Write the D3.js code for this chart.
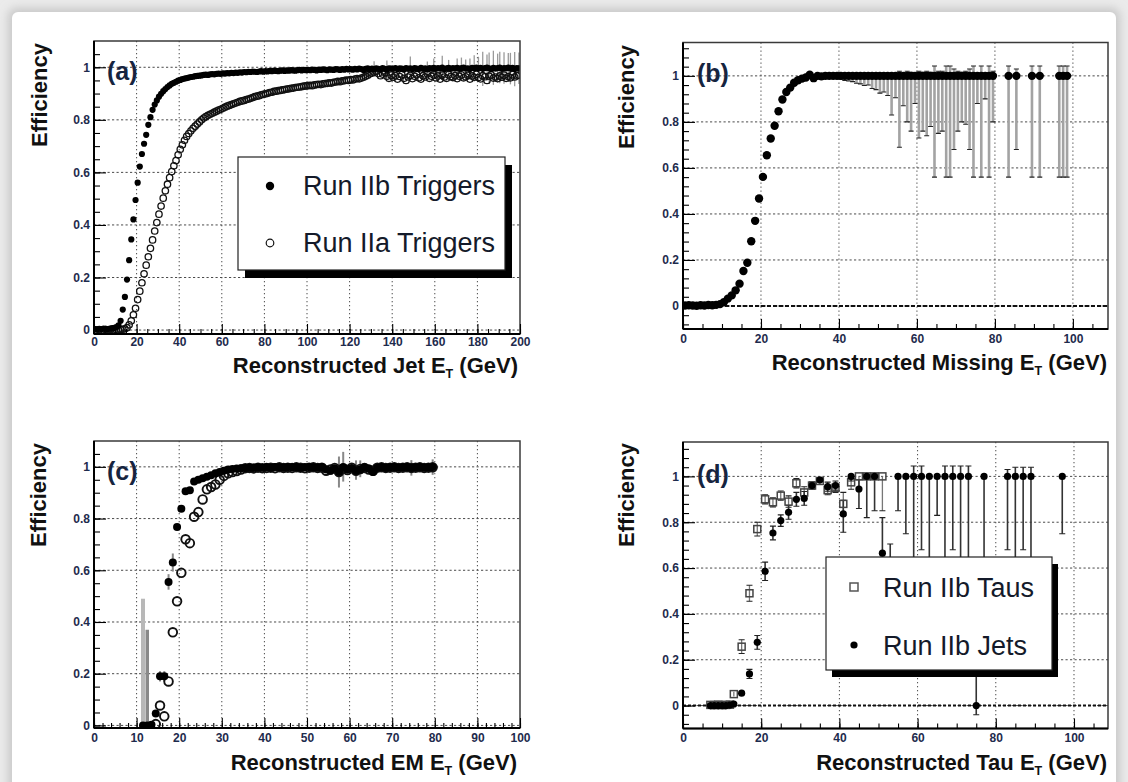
<!DOCTYPE html>
<html><head><meta charset="utf-8">
<script src="https://cdn.jsdelivr.net/npm/d3@7"></script>
<style>
html,body{margin:0;padding:0;background:#ebebeb;}
svg{display:block;}
</style></head><body>
<svg id="c" width="1128" height="782"></svg>
<script>
// ---------------- DATA ----------------
// Panel (a): 1 GeV bins starting at 0 (bin centre = index + 0.5)
const aIIb = [
0.004,0.003,0.005,0.004,0.006,0.005,0.004,0.006,0.007,0.008,
0.011,0.018,0.035,0.078,0.126,0.192,0.266,0.345,0.421,0.495,
0.561,0.622,0.670,0.709,0.743,0.781,0.810,0.838,0.858,0.874,
0.888,0.899,0.909,0.917,0.925,0.931,0.937,0.941,0.945,0.949,
0.952,0.955,0.957,0.959,0.961,0.963,0.964,0.966,0.967,0.968,
0.969,0.971,0.972,0.971,0.973,0.974,0.973,0.975,0.976,0.975,
0.977,0.976,0.978,0.977,0.979,0.978,0.980,0.979,0.981,0.980,
0.982,0.981,0.983,0.982,0.984,0.983,0.982,0.984,0.985,0.983,
0.985,0.984,0.986,0.985,0.987,0.986,0.985,0.987,0.988,0.986,
0.988,0.987,0.989,0.988,0.987,0.989,0.990,0.988,0.990,0.989,
0.990,0.989,0.991,0.990,0.988,0.991,0.990,0.992,0.991,0.989,
0.992,0.991,0.990,0.993,0.992,0.990,0.993,0.991,0.994,0.992,
0.993,0.991,0.994,0.992,0.995,0.993,0.990,0.994,0.996,0.992,
0.995,0.993,0.996,0.994,0.992,0.997,0.994,0.991,0.996,0.995,
0.994,0.997,0.993,0.996,0.995,0.992,0.997,0.994,0.996,0.993,
0.997,0.995,0.993,0.998,0.994,0.996,0.992,0.997,0.995,0.998,
0.994,0.997,0.995,0.999,0.993,0.996,0.998,0.994,0.997,0.995,
0.998,0.994,0.997,0.999,0.995,0.996,0.993,0.998,0.996,0.999,
0.995,0.998,0.994,0.997,0.999,0.996,0.993,0.998,0.995,0.997,
0.999,0.994,0.997,0.996,0.999,0.995,0.998,0.993,0.997,0.996];
const aIIa = [
0.000,-0.002,0.001,-0.003,0.000,0.002,-0.001,0.001,-0.002,0.000,
0.001,-0.001,0.002,0.003,0.005,0.009,0.020,0.035,0.058,0.083,
0.116,0.148,0.180,0.214,0.247,0.279,0.311,0.343,0.377,0.409,
0.441,0.472,0.502,0.530,0.555,0.580,0.603,0.625,0.645,0.667,
0.688,0.705,0.722,0.737,0.748,0.758,0.768,0.776,0.784,0.792,
0.800,0.807,0.812,0.817,0.821,0.825,0.829,0.833,0.837,0.840,
0.844,0.848,0.852,0.855,0.858,0.861,0.864,0.867,0.870,0.872,
0.874,0.877,0.879,0.882,0.885,0.888,0.890,0.892,0.895,0.897,
0.899,0.901,0.904,0.905,0.908,0.909,0.911,0.912,0.914,0.915,
0.917,0.918,0.920,0.921,0.923,0.924,0.925,0.926,0.928,0.929,
0.930,0.931,0.930,0.933,0.934,0.935,0.934,0.937,0.938,0.939,
0.941,0.940,0.943,0.944,0.946,0.945,0.948,0.949,0.951,0.950,
0.953,0.952,0.955,0.957,0.956,0.959,0.962,0.966,0.970,0.975,
0.978,0.982,0.985,0.976,0.968,0.974,0.980,0.966,0.958,0.970,
0.962,0.968,0.955,0.965,0.972,0.958,0.950,0.963,0.969,0.957,
0.966,0.972,0.960,0.955,0.968,0.963,0.975,0.958,0.966,0.971,
0.960,0.967,0.955,0.970,0.963,0.958,0.972,0.965,0.961,0.968,
0.957,0.966,0.971,0.960,0.964,0.969,0.955,0.967,0.962,0.973,
0.961,0.956,0.968,0.964,0.950,0.966,0.971,0.959,0.963,0.957,
0.967,0.962,0.970,0.958,0.965,0.960,0.972,0.963,0.968,0.970];
const aErrBins = [131,137,148,156,159,163,166,170,172,174,176,178,180,182,184,185,187,189,190,192,194,195,197,199];
const aErrSize = [0.03,0.035,0.045,0.03,0.035,0.045,0.03,0.035,0.04,0.035,0.04,0.05,0.045,0.065,0.05,0.06,0.065,0.055,0.06,0.06,0.055,0.06,0.065,0.06];

// Panel (b): missing ET
const bX = d3.range(0.5, 80, 1).concat([83.5, 85.5, 89.5, 91.5, 96.5, 97.5, 98.5]);
const bY = [
0.002,0.003,0.002,0.001,0.003,0.002,0.004,0.003,0.005,0.008,
0.017,0.032,0.046,0.068,0.097,0.152,0.188,0.281,0.370,0.467,
0.561,0.655,0.728,0.783,0.846,0.897,0.930,0.949,0.970,0.981,
0.988,0.993,1.005,0.990,1.000,0.998,1.000,1.000,1.000,1.000,
1,1,1,1,1,1,1,1,1,1, 1,1,1,1,1,1,1,1,1,1,
1,1,1,1,1,1,1,1,1,1, 1,1,1,1,1,1,1,1,1,1,
1,1,1,1,1,1,1];
const bErrLo = new Array(35).fill(0).concat([
0.002,0.003,0.005,0.007,0.01,0.015,0.02,0.022,0.025,0.032,
0.035,0.042,0.04,0.055,0.06,0.075,0.07,0.085,0.17,0.095,
0.31,0.13,0.2,0.24,0.12,0.27,0.24,0.26,0.22,0.44,
0.25,0.24,0.44,0.44,0.32,0.24,0.2,0.21,0.32,0.44,
0.12,0.44,0.1,0.44,0.2,
0.44,0.32,0.44,0.44,0.44,0.44,0.44]);
const bErrHi = new Array(53).fill(0).concat([
0.01,0.005,0.02,0.01,0.02,0.015,0.01,0.02,0.015,0.02,
0.015,0.043,0.02,0.02,0.043,0.043,0.03,0.02,0.015,0.02,
0.03,0.043,0.01,0.043,0.01,0.043,0.02,
0.043,0.03,0.043,0.043,0.043,0.043,0.043]);

// Panel (c): EM ET
const cFilledX = d3.range(11.5, 80, 1);
const cFilled = [
0,0,0.003,0.046,0.19,0.19,0.555,0.63,0.767,0.838,0.906,0.91,0.943,0.95,0.956,0.962,0.968,0.975,0.98,
0.985,0.99,0.992,0.994,0.995,0.996,0.997,0.996,0.998,0.997,
0.998,0.997,0.999,0.998,0.997,0.999,0.998,0.999,0.997,0.998,
0.999,0.998,0.997,0.999,0.99,0.985,0.995,0.98,0.998,0.99,
0.996,0.985,0.99,0.998,0.993,0.98,0.997,0.999,0.996,0.998,
0.999,0.997,0.998,0.999,0.996,0.998,0.999,0.997,0.998,0.999];
const cOpenX = d3.range(14.5, 80, 1);
const cOpen = [
0.005,0.077,0.035,0.17,0.36,0.48,0.59,0.72,0.705,0.807,0.825,0.874,0.913,0.922,0.932,0.95,0.965,0.975,0.98,0.984,0.99,
0.995,0.996,0.994,0.997,0.995,0.996,0.997,0.995,0.998,0.996,
0.997,0.996,0.998,0.997,0.995,0.997,0.998,0.996,0.997,0.985,
0.99,0.996,0.98,0.995,0.988,0.997,0.985,0.992,0.996,0.99,
0.985,0.997,0.998,0.996,0.997,0.998,0.996,0.997,0.998,0.996,
0.997,0.998,0.996,0.997,0.998];
const cErrX  = [11.5,12.5,15.5,16.5,17.5,18.5,57.5,58.5,61.5,62.5,74.5,79.5];
const cErrLo = [0,0,0.02,0.02,0.03,0.035,0.06,0.055,0.035,0.03,0.03,0.03];
const cErrHi = [0.49,0.37,0.02,0.02,0.03,0.035,0.06,0.06,0.04,0.035,0.03,0.03];

// Panel (d): Tau ET
const dJetX = [7,8,9,10,11,12,13,15,17,19,21,23,25,27,29,31,33,35,37,39,41,43,45,47,49,51,53,55,57,59,61,63,65,67,69,71,73,75,77,83,85,87,89,97];
const dJetY = [0,0,0,0,0,0.002,0.007,
0.054,0.138,0.276,0.586,0.753,0.807,0.843,0.9,0.904,0.96,0.984,0.955,0.96,0.836,1,0.945,1,1,0.665,0.5,
1,1,1,1,1,1,1,1,1,1, 0,1, 1,1,1,1, 1];
const dJetLo = [0,0,0,0,0,0,0,
0.008,0.02,0.03,0.04,0.03,0.025,0.03,0.03,0.03,0.015,0.01,0.02,0.02,0.08,0.02,0.085,0.18,0.15,0.1,0.1,
0.15,0.25,0.6,0.32,0.6,0.17,0.6,0.32,0.6,0.6, 0.04,0.6, 0.32,0.6,0.32,0.6, 0.25];
const dJetHi = [0,0,0,0,0,0,0,
0.008,0.02,0.03,0.04,0.03,0.025,0.03,0.03,0.03,0.015,0.01,0.02,0.02,0.06,0,0.04,0,0,0.155,0.205,
0,0,0.045,0.045,0,0,0.045,0.045,0.045,0.045, 0.5,0, 0.03,0.04,0.04,0.04, 0];
const dTauX = [7,8,9,10,11,12,13,15,17,19,21,23,25,27,29,31,33,35,37,39,41,43,45,47,49,51];
const dTauY = [0.003,0.002,0.004,0.002,0.003,0.004,0.05,0.257,0.49,0.77,0.9,0.887,0.916,0.89,0.97,0.93,0.96,0.98,0.94,0.95,0.88,0.974,1,1,1,1];
const dTauLo = [0,0,0,0,0,0,0.01,0.03,0.035,0.03,0.02,0.02,0.02,0.025,0.02,0.025,0.015,0.01,0.02,0.02,0.05,0.03,0.05,0,0,0.15];
const dTauHi = [0,0,0,0,0,0,0.01,0.03,0.035,0.03,0.02,0.02,0.02,0.025,0.02,0.025,0.015,0.01,0.02,0.02,0.05,0.03,0,0,0,0];

const yTicks = [0,0.2,0.4,0.6,0.8,1];
const xTicksA = [0,20,40,60,80,100,120,140,160,180,200];
const xTicksB = [0,20,40,60,80,100];
const xTicksC = [0,10,20,30,40,50,60,70,80,90,100];

// ---------------- DRAWING ----------------
const FONT = '"Liberation Sans", Arial, Helvetica, sans-serif';
const LABEL = "#1e2b4d";
const svg = d3.select("#c").attr("font-family", FONT);
const defs = svg.append("defs");
const flt = defs.append("filter").attr("id","soft").attr("x","-5%").attr("y","-5%").attr("width","110%").attr("height","110%");
flt.append("feGaussianBlur").attr("stdDeviation",5);
svg.append("rect").attr("x",0).attr("y",0).attr("width",1128).attr("height",782).attr("fill","#ebebeb");
svg.append("rect").attr("x",8).attr("y",8).attr("width",1112).attr("height",790).attr("rx",8).attr("fill","#c8c8c8").attr("filter","url(#soft)");
svg.append("rect").attr("x",12).attr("y",12).attr("width",1104).attr("height",790).attr("rx",6).attr("fill","#ffffff");

const fmt = d => Math.abs(d) < 1e-9 ? "0" : String(+d.toFixed(2));

function panel(o) {
  const x = d3.scaleLinear().domain(o.xDom).range([o.L, o.R]);
  const y = d3.scaleLinear().domain(o.yDom).range([o.B, o.T]);
  const g = svg.append("g");
  const cid = "clip_" + o.id;
  defs.append("clipPath").attr("id", cid).append("rect")
    .attr("x", o.L).attr("y", o.T).attr("width", o.R - o.L).attr("height", o.B - o.T);
  g.append("g").selectAll("line").data(o.xMajor.filter(v => x(v) > o.L + 2 && x(v) < o.R - 2)).join("line")
    .attr("x1", d => x(d)).attr("x2", d => x(d)).attr("y1", o.T).attr("y2", o.B)
    .attr("stroke", "#4a4a4a").attr("stroke-width", 1).attr("stroke-dasharray", "1.3,2.7");
  g.append("g").selectAll("line").data(yTicks.filter(v => y(v) > o.T + 2 && y(v) < o.B - 2)).join("line")
    .attr("y1", d => y(d)).attr("y2", d => y(d)).attr("x1", o.L).attr("x2", o.R)
    .attr("stroke", "#4a4a4a").attr("stroke-width", 1).attr("stroke-dasharray", "2.2,2.3");
  const data = g.append("g").attr("clip-path", `url(#${cid})`);
  return {x, y, g, data, o};
}

function axes(p) {
  const {x, y, g, o} = p;
  g.append("rect").attr("x", o.L).attr("y", o.T).attr("width", o.R - o.L).attr("height", o.B - o.T)
    .attr("fill", "none").attr("stroke", "#3a3a3a").attr("stroke-width", 1.5);
  const style = (sel) => {
    sel.attr("font-family", FONT);
    sel.select(".domain").remove();
    sel.selectAll(".tick line").attr("stroke", "#000").attr("stroke-width", 1.1);
    sel.selectAll(".tick text").attr("font-size", 12).attr("font-weight", "bold").attr("fill", LABEL);
  };
  g.append("g").attr("transform", `translate(${o.L},0)`)
    .call(d3.axisLeft(y).tickValues(o.yMinor).tickSizeInner(-6).tickSizeOuter(0).tickFormat("")).call(style);
  g.append("g").attr("transform", `translate(${o.L},0)`)
    .call(d3.axisLeft(y).tickValues(yTicks).tickSizeInner(-12).tickSizeOuter(0).tickPadding(4).tickFormat(fmt)).call(style);
  g.append("g").attr("transform", `translate(0,${o.B})`)
    .call(d3.axisBottom(x).tickValues(o.xMinor).tickSizeInner(-5).tickSizeOuter(0).tickFormat("")).call(style);
  g.append("g").attr("transform", `translate(0,${o.B})`)
    .call(d3.axisBottom(x).tickValues(o.xMajor).tickSizeInner(-10).tickSizeOuter(0).tickPadding(o.xPad).tickFormat(fmt)).call(style);
  g.append("line").attr("x1", o.L).attr("x2", o.L).attr("y1", o.T).attr("y2", o.B).attr("stroke", "#000").attr("stroke-width", 2);
  g.append("line").attr("x1", o.L).attr("x2", o.R).attr("y1", o.B).attr("y2", o.B).attr("stroke", "#000").attr("stroke-width", 2);
  // titles
  const t = g.append("text").attr("x", o.xtX).attr("y", o.xtY).attr("text-anchor", "end")
    .attr("font-size", 22).attr("font-weight", "bold").attr("fill", "#111");
  t.append("tspan").text(o.xTitle[0]);
  t.append("tspan").attr("font-size", 12.5).attr("dy", 5).text("T");
  t.append("tspan").attr("dy", -5).text(o.xTitle[1]);
  g.append("text").attr("transform", `translate(${o.ytX},${o.ytY}) rotate(-90)`).attr("text-anchor", "end")
    .attr("font-size", 22).attr("font-weight", "bold").attr("fill", "#111").text("Efficiency");
  g.append("text").attr("x", o.lbX).attr("y", o.lbY).attr("font-size", 25).attr("font-weight", "bold")
    .attr("fill", "#16243f").text(o.label);
}

function errBars(layer, p, xs, ys, lo, hi, color, w, cap) {
  const items = xs.map((xv, i) => ({xv, yv: ys[i], l: lo[i], h: hi[i]})).filter(d => d.l > 0 || d.h > 0);
  layer.append("g").selectAll("line").data(items).join("line")
    .attr("x1", d => p.x(d.xv)).attr("x2", d => p.x(d.xv))
    .attr("y1", d => p.y(d.yv - d.l)).attr("y2", d => p.y(d.yv + d.h))
    .attr("stroke", color).attr("stroke-width", w);
  if (cap > 0) {
    const caps = [];
    items.forEach(d => {
      if (d.l > 0.012) caps.push({xv: d.xv, yv: d.yv - d.l});
      if (d.h > 0.012) caps.push({xv: d.xv, yv: d.yv + d.h});
    });
    layer.append("g").selectAll("line").data(caps).join("line")
      .attr("x1", d => p.x(d.xv) - cap / 2).attr("x2", d => p.x(d.xv) + cap / 2)
      .attr("y1", d => p.y(d.yv)).attr("y2", d => p.y(d.yv))
      .attr("stroke", "#222").attr("stroke-width", 1.1);
  }
}

function circles(layer, p, xs, ys, r, filled, sw) {
  layer.append("g").selectAll("circle").data(xs.map((xv, i) => [xv, ys[i]])).join("circle")
    .attr("cx", d => p.x(d[0])).attr("cy", d => p.y(d[1])).attr("r", r)
    .attr("fill", filled ? "#000" : "none").attr("stroke", filled ? "none" : "#111").attr("stroke-width", sw || 1);
}

function legendBox(bx, by, bw, bh, dx, dy) {
  svg.append("rect").attr("x", bx + dx).attr("y", by + dy).attr("width", bw).attr("height", bh).attr("fill", "#000");
  svg.append("rect").attr("x", bx).attr("y", by).attr("width", bw).attr("height", bh)
    .attr("fill", "#fff").attr("stroke", "#222").attr("stroke-width", 1.2);
}
function legendText(tx, ty, s) {
  svg.append("text").attr("x", tx).attr("y", ty).attr("font-size", 27).attr("fill", "#141a2a").text(s);
}

// ---- (a)
const pa = panel({id: "a", L: 94, R: 520, T: 41, B: 334, xDom: [0, 200], yDom: [-0.015, 1.1],
  xMajor: xTicksA, xMinor: d3.range(0, 201, 5), yMinor: d3.range(0, 1.1, 0.05)});
const aX = aIIb.map((v, i) => i + 0.5);
errBars(pa.data, pa, aErrBins.map(k => k + 0.5), aErrBins.map(k => aIIb[k]), aErrSize, aErrSize, "#9a9a9a", 1.3, 0);
circles(pa.data, pa, aX, aIIa, 3.2, false, 1.3);
circles(pa.data, pa, aX, aIIb, 3.1, true);
pa.o = Object.assign(pa.o, {xPad: 3, xTitle: ["Reconstructed Jet E", " (GeV)"], xtX: 518, xtY: 373, ytX: 47, ytY: 43, label: "(a)", lbX: 107, lbY: 80});
axes(pa);
legendBox(238, 157, 267, 113, 7, 8);
svg.append("circle").attr("cx", 270).attr("cy", 186).attr("r", 4.2).attr("fill", "#000");
svg.append("circle").attr("cx", 270).attr("cy", 243).attr("r", 3.8).attr("fill", "none").attr("stroke", "#111").attr("stroke-width", 1.2);
legendText(303, 195, "Run IIb Triggers");
legendText(303, 252, "Run IIa Triggers");

// ---- (b)
const pb = panel({id: "b", L: 683, R: 1108, T: 42.5, B: 329, xDom: [0, 109], yDom: [-0.1, 1.145],
  xMajor: xTicksB, xMinor: d3.range(0, 109, 5), yMinor: d3.range(-0.08, 1.14, 0.04)});
pb.data.append("line").attr("x1", pb.o.L).attr("x2", pb.o.R).attr("y1", pb.y(0)).attr("y2", pb.y(0))
  .attr("stroke", "#111").attr("stroke-width", 2.2).attr("stroke-dasharray", "4,2");
errBars(pb.data, pb, bX, bY, bErrLo, bErrHi, "#a3a3a3", 2.6, 5);
circles(pb.data, pb, bX, bY, 4.2, true);
pb.o = Object.assign(pb.o, {xPad: 5, xTitle: ["Reconstructed Missing E", " (GeV)"], xtX: 1107, xtY: 370, ytX: 634, ytY: 45, label: "(b)", lbX: 697, lbY: 82});
axes(pb);

// ---- (c)
const pc = panel({id: "c", L: 94, R: 520, T: 441, B: 728, xDom: [0, 100], yDom: [-0.01, 1.1],
  xMajor: xTicksC, xMinor: d3.range(0, 101, 2), yMinor: d3.range(0, 1.1, 0.05)});
const cErrY = cErrX.map(xv => cFilled[cFilledX.indexOf(xv)]);
errBars(pc.data, pc, cErrX.slice(0, 1), cErrY.slice(0, 1), cErrLo.slice(0, 1), cErrHi.slice(0, 1), "#b8b8b8", 4, 0);
errBars(pc.data, pc, cErrX.slice(1, 2), cErrY.slice(1, 2), cErrLo.slice(1, 2), cErrHi.slice(1, 2), "#8a8a8a", 3.5, 0);
errBars(pc.data, pc, cErrX.slice(2), cErrY.slice(2), cErrLo.slice(2), cErrHi.slice(2), "#888", 2, 0);
circles(pc.data, pc, cOpenX, cOpen, 4.3, false, 1.9);
circles(pc.data, pc, cFilledX, cFilled, 4, true);
pc.o = Object.assign(pc.o, {xPad: 5, xTitle: ["Reconstructed EM E", " (GeV)"], xtX: 517, xtY: 770, ytX: 46, ytY: 443, label: "(c)", lbX: 107, lbY: 480});
axes(pc);

// ---- (d)
const pd = panel({id: "d", L: 683, R: 1108, T: 442, B: 728.5, xDom: [0, 108.7], yDom: [-0.1, 1.15],
  xMajor: xTicksB, xMinor: d3.range(0, 108, 5), yMinor: d3.range(-0.08, 1.14, 0.04)});
pd.data.append("line").attr("x1", pd.o.L).attr("x2", pd.o.R).attr("y1", pd.y(0)).attr("y2", pd.y(0))
  .attr("stroke", "#111").attr("stroke-width", 2).attr("stroke-dasharray", "3,2");
errBars(pd.data, pd, dTauX, dTauY, dTauLo, dTauHi, "#777", 1.3, 6);
errBars(pd.data, pd, dJetX, dJetY, dJetLo, dJetHi, "#333", 1.6, 6);
pd.data.append("g").selectAll("rect").data(dTauX.map((xv, i) => [xv, dTauY[i]])).join("rect")
  .attr("x", d => pd.x(d[0]) - 3.5).attr("y", d => pd.y(d[1]) - 3.5).attr("width", 7).attr("height", 7)
  .attr("fill", "none").attr("stroke", "#444").attr("stroke-width", 1.5);
circles(pd.data, pd, dJetX, dJetY, 3.6, true);
pd.o = Object.assign(pd.o, {xPad: 5, xTitle: ["Reconstructed Tau E", " (GeV)"], xtX: 1107, xtY: 770, ytX: 634, ytY: 443, label: "(d)", lbX: 697, lbY: 483});
axes(pd);
legendBox(826, 557, 226, 113, 6, 7);
svg.append("rect").attr("x", 850).attr("y", 583).attr("width", 8).attr("height", 8).attr("fill", "none").attr("stroke", "#555").attr("stroke-width", 1.5);
svg.append("circle").attr("cx", 854).attr("cy", 645).attr("r", 3.6).attr("fill", "#000");
legendText(883, 597, "Run IIb Taus");
legendText(883, 655, "Run IIb Jets");
</script>
</body></html>
